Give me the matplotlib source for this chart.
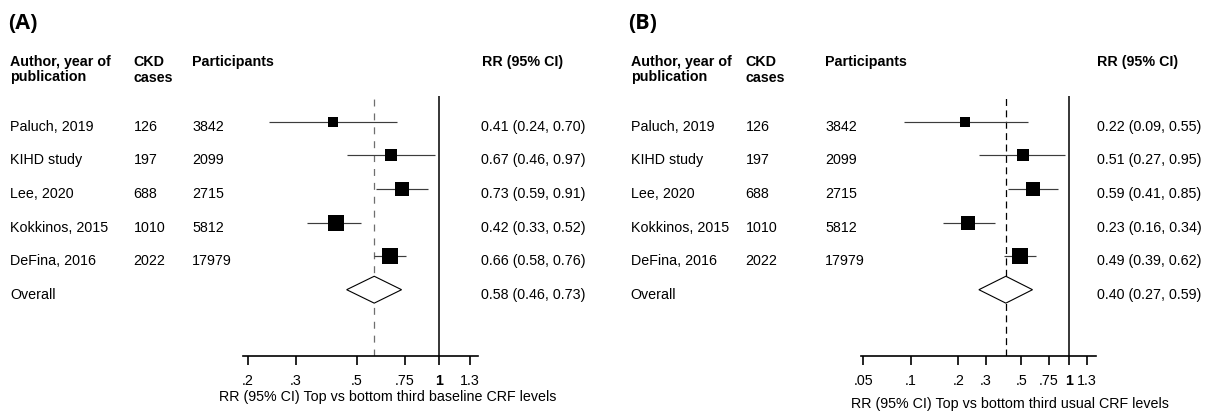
import numpy as np
import matplotlib
matplotlib.use("Agg")
import matplotlib.pyplot as plt
from matplotlib.patches import Polygon

# ---- data ----
studies = ["Paluch, 2019", "KIHD study", "Lee, 2020", "Kokkinos, 2015", "DeFina, 2016"]
ckd_cases = [126, 197, 688, 1010, 2022]
participants = [3842, 2099, 2715, 5812, 17979]

# (A) baseline CRF levels
rr_a = [0.41, 0.67, 0.73, 0.42, 0.66]
lo_a = [0.24, 0.46, 0.59, 0.33, 0.58]
hi_a = [0.70, 0.97, 0.91, 0.52, 0.76]
weight_a = [9.1, 17.1, 22.9, 23.8, 27.1]
overall_a = [0.58, 0.46, 0.73]
ticks_a = [0.2, 0.3, 0.5, 0.75, 1, 1.3]
ticklabels_a = [".2", ".3", ".5", ".75", "1", "1.3"]

# (B) usual CRF levels
rr_b = [0.22, 0.51, 0.59, 0.23, 0.49]
lo_b = [0.09, 0.27, 0.41, 0.16, 0.39]
hi_b = [0.55, 0.95, 0.85, 0.34, 0.62]
weight_b = [11.9, 17.6, 21.3, 22.5, 26.7]
overall_b = [0.40, 0.27, 0.59]
ticks_b = [0.05, 0.1, 0.2, 0.3, 0.5, 0.75, 1, 1.3]
ticklabels_b = [".05", ".1", ".2", ".3", ".5", ".75", "1", "1.3"]

# ---- figure setup (pixel based layout) ----
W, H = 1213, 414
DPI = 100
plt.rcParams["font.family"] = ["Liberation Sans", "DejaVu Sans"]
plt.rcParams["lines.scale_dashes"] = False
FS = 10.3

fig = plt.figure(figsize=(W / DPI, H / DPI), dpi=DPI)
fig.patch.set_facecolor("white")


def fx(x):
    return x / W


def fy(y):
    return 1 - y / H


ROW0, ROWSTEP = 122.7, 33.6
AX_TOP, AX_BOT = 97, 357


def row_px(r):
    return ROW0 + ROWSTEP * r


def panel(tag, cols, ax_px, xlim, rr, lo, hi, wt, overall, ticks, ticklabels,
          xlabel, xlabel_pos, dash_color, dash_pattern):
    x_tag, x_name, x_cases, x_part, x_val, x_rrhead = cols

    fig.text(fx(x_tag), fy(29), tag, fontsize=15.5, fontweight="bold",
             family=["Open Sans", "DejaVu Sans"], ha="left", va="baseline")

    # column headers
    fig.text(fx(x_name), fy(66), "Author, year of", fontsize=FS, fontweight="bold", va="baseline")
    fig.text(fx(x_name), fy(81.5), "publication", fontsize=FS, fontweight="bold", va="baseline")
    fig.text(fx(x_cases), fy(66), "CKD", fontsize=FS, fontweight="bold", va="baseline")
    fig.text(fx(x_cases), fy(81.5), "cases", fontsize=FS, fontweight="bold", va="baseline")
    fig.text(fx(x_part), fy(66), "Participants", fontsize=FS, fontweight="bold", va="baseline")
    fig.text(fx(x_rrhead), fy(66), "RR (95% CI)", fontsize=FS, fontweight="bold", va="baseline")

    # plot area
    left, right = ax_px
    ax = fig.add_axes([fx(left), fy(AX_BOT), (right - left) / W, (AX_BOT - AX_TOP) / H])
    ax.set_xscale("log")
    ax.set_xlim(*xlim)
    ylo = (AX_TOP - ROW0) / ROWSTEP
    yhi = (AX_BOT - ROW0) / ROWSTEP
    ax.set_ylim(yhi, ylo)
    ax.patch.set_alpha(0)
    for s in ("top", "left", "right"):
        ax.spines[s].set_visible(False)
    ax.spines["bottom"].set_linewidth(1.2)
    ax.set_yticks([])
    ax.minorticks_off()
    ax.set_xticks(ticks)
    ax.set_xticklabels(ticklabels)
    ax.tick_params(axis="x", direction="out", length=6.5, width=1.2, pad=5.5,
                   labelsize=FS, which="major")
    ax.tick_params(axis="x", which="minor", length=0)
    for lab in ax.get_xticklabels():
        if lab.get_text() == "1":
            lab.set_fontweight("bold")

    ax.axvline(1, color="black", lw=1.1, zorder=1)
    ax.axvline(overall[0], color=dash_color, lw=0.9, dashes=dash_pattern, zorder=1)

    n = len(rr)
    for i in range(n):
        ax.plot([lo[i], hi[i]], [i, i], color="#3c3c3c", lw=0.85, zorder=2,
                solid_capstyle="butt")
        side = 3.08 * np.sqrt(wt[i]) * 72 / DPI
        ax.plot(rr[i], i, marker="s", markersize=side, color="black",
                markeredgewidth=0, zorder=3, linestyle="none")

    # pooled estimate diamond
    yo = n
    est, dlo, dhi = overall
    dh = 0.4
    diamond = Polygon([[dlo, yo], [est, yo - dh], [dhi, yo], [est, yo + dh]],
                      closed=True, facecolor="white", edgecolor="black", lw=0.8, zorder=4)
    ax.add_patch(diamond)

    # row text
    for i in range(n):
        yb = fy(row_px(i) + 8.2)
        fig.text(fx(x_name), yb, studies[i], fontsize=FS, va="baseline")
        fig.text(fx(x_cases), yb, str(ckd_cases[i]), fontsize=FS, va="baseline")
        fig.text(fx(x_part), yb, str(participants[i]), fontsize=FS, va="baseline")
        fig.text(fx(x_val), yb, f"{rr[i]:.2f} ({lo[i]:.2f}, {hi[i]:.2f})",
                 fontsize=FS, va="baseline")
    yb = fy(row_px(n) + 8.2)
    fig.text(fx(x_name), yb, "Overall", fontsize=FS, va="baseline")
    fig.text(fx(x_val), yb, f"{est:.2f} ({dlo:.2f}, {dhi:.2f})", fontsize=FS, va="baseline")

    fig.text(fx(xlabel_pos[0]), fy(xlabel_pos[1]), xlabel, fontsize=FS,
             ha="center", va="center")
    return ax


panel("(A)", (8, 10, 133.5, 192, 481, 481.5), (243, 477.7), (0.1924, 1.3847),
      rr_a, lo_a, hi_a, weight_a, overall_a, ticks_a, ticklabels_a,
      "RR (95% CI) Top vs bottom third baseline CRF levels", (387.3, 396.7),
      "#6e6e6e", (5.0, 5.0))

panel("(B)", (628, 630.7, 745.7, 825, 1097, 1097), (861, 1096), (0.0484, 1.489),
      rr_b, lo_b, hi_b, weight_b, overall_b, ticks_b, ticklabels_b,
      "RR (95% CI) Top vs bottom third usual CRF levels", (1010, 404.3),
      "black", (5.0, 3.2))

fig.savefig("out.png", dpi=DPI)
